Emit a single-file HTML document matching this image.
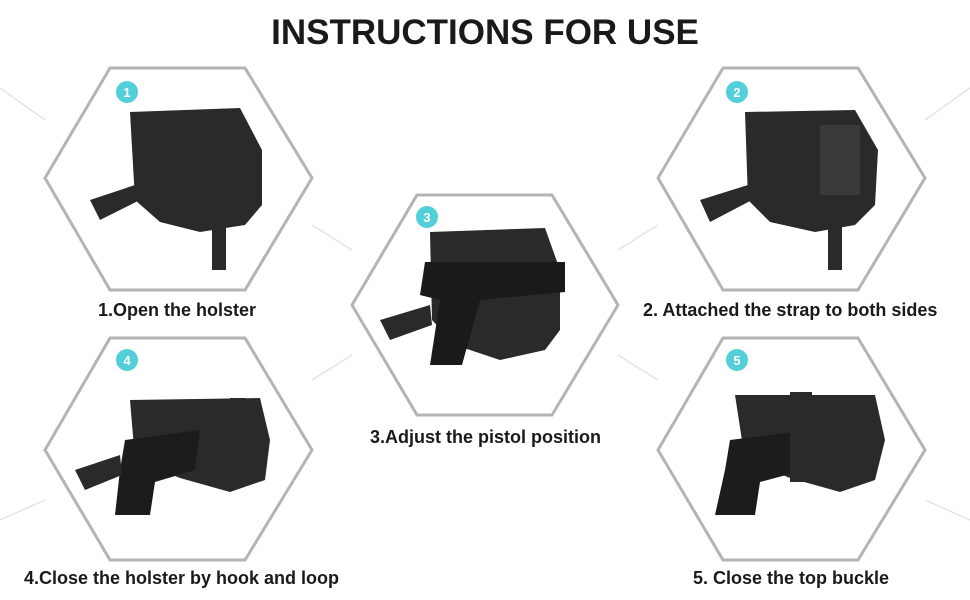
<!DOCTYPE html>
<html><head><meta charset="utf-8"><style>
html,body{margin:0;padding:0;background:#fff;}
body{width:970px;height:600px;position:relative;overflow:hidden;font-family:"Liberation Sans",sans-serif;}
.t{position:absolute;font-weight:bold;color:#1a1a1a;white-space:nowrap;font-size:18px;}
</style></head><body>
<svg width="970" height="600" style="position:absolute;left:0;top:0">
<g stroke="#e4e4e4" stroke-width="1.5" fill="none">
<line x1="0" y1="88" x2="45" y2="120"/>
<line x1="312" y1="225" x2="352" y2="250"/>
<line x1="618" y1="250" x2="658" y2="225"/>
<line x1="925" y1="120" x2="970" y2="88"/>
<line x1="312" y1="380" x2="352" y2="355"/>
<line x1="618" y1="355" x2="658" y2="380"/>
<line x1="0" y1="520" x2="45" y2="500"/>
<line x1="925" y1="500" x2="970" y2="520"/>
</g>
<g stroke="#b4b4b4" stroke-width="3" fill="#fff">
<polygon points="45,178 110,68 245,68 312,178 245,290 110,290"/>
<polygon points="658,178 723,68 858,68 925,178 858,290 723,290"/>
<polygon points="352,305 417,195 552,195 618,305 552,415 417,415"/>
<polygon points="45,450 110,338 245,338 312,450 245,560 110,560"/>
<polygon points="658,450 723,338 858,338 925,450 858,560 723,560"/>
</g>
<g fill="#2a2a2c">
<path d="M130,112 L240,108 L262,150 L262,205 L245,225 L200,232 L160,222 L135,200 Z"/>
<rect x="212" y="225" width="14" height="45"/>
<path d="M90,200 L135,185 L140,200 L100,220 Z"/>
</g>
<g fill="#2a2a2c">
<path d="M745,112 L855,110 L878,150 L875,205 L855,225 L815,232 L770,222 L748,200 Z"/>
<rect x="828" y="225" width="14" height="45"/>
<path d="M700,200 L748,185 L752,200 L710,222 Z"/>
<rect x="820" y="125" width="40" height="70" fill="#3a3a3c"/>
</g>
<g fill="#2a2a2c">
<path d="M430,232 L545,228 L560,270 L560,330 L545,350 L500,360 L455,345 L432,320 Z"/>
<path d="M425,262 L565,262 L565,292 L480,300 L462,365 L430,365 L440,300 L420,295 Z" fill="#1a1a1c"/>
<path d="M380,320 L430,305 L432,325 L390,340 Z"/>
</g>
<g fill="#2a2a2c">
<path d="M130,400 L260,398 L270,440 L265,480 L230,492 L180,478 L135,460 Z"/>
<path d="M125,440 L200,430 L195,470 L155,482 L150,515 L115,515 L120,470 Z" fill="#1c1c1e"/>
<path d="M75,470 L120,455 L122,475 L85,490 Z"/>
<rect x="230" y="398" width="16" height="70"/>
</g>
<g fill="#2a2a2c">
<path d="M735,395 L875,395 L885,440 L875,480 L840,492 L790,478 L745,460 Z"/>
<path d="M730,440 L810,430 L805,470 L760,482 L755,515 L715,515 L725,470 Z" fill="#1c1c1e"/>
<rect x="790" y="392" width="22" height="90"/>
</g>
<g fill="#52cfd8">
<circle cx="127" cy="92" r="11"/><circle cx="737" cy="92" r="11"/>
<circle cx="427" cy="217" r="11"/><circle cx="127" cy="360" r="11"/>
<circle cx="737" cy="360" r="11"/>
</g>
<g fill="#fff" font-family="Liberation Sans" font-weight="bold" font-size="13" text-anchor="middle">
<text x="127" y="97">1</text><text x="737" y="97">2</text><text x="427" y="222">3</text>
<text x="127" y="365">4</text><text x="737" y="365">5</text>
</g>
</svg>
<div class="t" style="left:0;width:970px;text-align:center;top:13px;font-size:35px;">INSTRUCTIONS FOR USE</div>
<div class="t" style="left:98px;top:300px;">1.Open the holster</div>
<div class="t" style="left:643px;top:300px;">2. Attached the strap to both sides</div>
<div class="t" style="left:370px;top:427px;">3.Adjust the pistol position</div>
<div class="t" style="left:24px;top:568px;">4.Close the holster by hook and loop</div>
<div class="t" style="left:693px;top:568px;">5. Close the top buckle</div>
</body></html>
